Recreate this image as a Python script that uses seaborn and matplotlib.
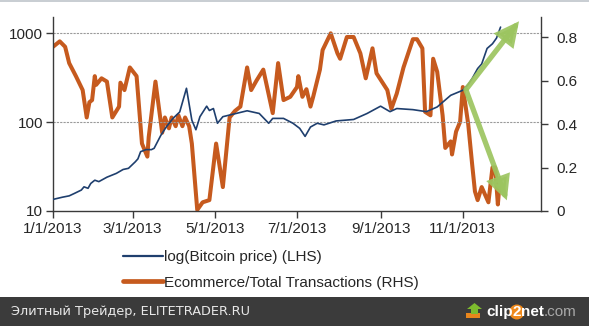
import numpy as np
import pandas as pd
import matplotlib
matplotlib.use("Agg")
import matplotlib.pyplot as plt
import matplotlib.dates as mdates
from matplotlib.patches import Rectangle, Circle, Polygon
from matplotlib.ticker import FixedLocator, FixedFormatter, NullLocator
import seaborn as sns

# ---------------- data ----------------
btc_dates = ["2013-01-01", "2013-01-08", "2013-01-13", "2013-01-17", "2013-01-22",
             "2013-01-24", "2013-01-27", "2013-01-29", "2013-02-01", "2013-02-04",
             "2013-02-10", "2013-02-17", "2013-02-22", "2013-02-26", "2013-03-03",
             "2013-03-05", "2013-03-07", "2013-03-11", "2013-03-15", "2013-03-17",
             "2013-03-22", "2013-03-26", "2013-03-31", "2013-04-05", "2013-04-10",
             "2013-04-14", "2013-04-17", "2013-04-20", "2013-04-25", "2013-04-27",
             "2013-04-30", "2013-05-03", "2013-05-07", "2013-05-12", "2013-05-25",
             "2013-06-03", "2013-06-10", "2013-06-13", "2013-06-21", "2013-06-28",
             "2013-07-03", "2013-07-07", "2013-07-11", "2013-07-16", "2013-07-21",
             "2013-07-30", "2013-08-12", "2013-08-22", "2013-09-01", "2013-09-08",
             "2013-09-13", "2013-09-25", "2013-10-05", "2013-10-13", "2013-10-23",
             "2013-11-01", "2013-11-05", "2013-11-08", "2013-11-12", "2013-11-15",
             "2013-11-19", "2013-11-23", "2013-11-26", "2013-11-29"]
btc_price = [13.5, 14.3, 14.8, 15.8, 17.2,
             18.7, 18.0, 20.4, 22.2, 21.4,
             24.0, 26.5, 29.3, 30.2, 35.7,
             38.6, 46.5, 49.0, 49.0, 50.7,
             71.0, 88.0, 110.0, 130.0, 240.0,
             105.0, 82.0, 115.0, 151.0, 135.0,
             142.0, 97.0, 115.0, 120.0, 134.0,
             125.0, 97.0, 110.0, 110.0, 97.0,
             85.0, 69.0, 88.0, 97.0, 93.0,
             103.0, 107.0, 125.0, 151.0, 131.0,
             142.0, 138.0, 131.0, 148.0, 200.0,
             228.0, 265.0, 310.0, 400.0, 450.0,
             673.0, 760.0, 880.0, 1170.0]

ecom_dates = ["2013-01-01", "2013-01-06", "2013-01-10", "2013-01-13", "2013-01-18",
              "2013-01-23", "2013-01-26", "2013-01-28", "2013-01-30", "2013-02-01",
              "2013-02-02", "2013-02-06", "2013-02-10", "2013-02-14", "2013-02-19",
              "2013-02-20", "2013-02-23", "2013-02-27", "2013-03-04", "2013-03-08",
              "2013-03-12", "2013-03-13", "2013-03-18", "2013-03-23", "2013-03-25",
              "2013-03-28", "2013-03-30", "2013-04-02", "2013-04-04", "2013-04-07",
              "2013-04-09", "2013-04-12", "2013-04-14", "2013-04-18", "2013-04-22",
              "2013-04-27", "2013-05-02", "2013-05-07", "2013-05-12", "2013-05-16",
              "2013-05-20", "2013-05-25", "2013-05-28", "2013-06-01", "2013-06-06",
              "2013-06-13", "2013-06-17", "2013-06-21", "2013-06-26", "2013-07-01",
              "2013-07-02", "2013-07-05", "2013-07-08", "2013-07-11", "2013-07-13",
              "2013-07-18", "2013-07-20", "2013-07-26", "2013-07-31", "2013-08-02",
              "2013-08-07", "2013-08-12", "2013-08-17", "2013-08-21", "2013-08-26",
              "2013-08-29", "2013-09-06", "2013-09-09", "2013-09-13", "2013-09-18",
              "2013-09-25", "2013-09-28", "2013-10-02", "2013-10-04", "2013-10-08",
              "2013-10-10", "2013-10-13", "2013-10-17", "2013-10-19", "2013-10-23",
              "2013-10-24", "2013-10-27", "2013-10-30", "2013-11-01", "2013-11-05",
              "2013-11-08", "2013-11-10", "2013-11-12", "2013-11-15", "2013-11-20",
              "2013-11-23", "2013-11-25", "2013-11-27", "2013-11-28"]
ecom_share = [0.755, 0.78, 0.755, 0.68, 0.62,
              0.556, 0.43, 0.50, 0.51, 0.62,
              0.58, 0.61, 0.595, 0.43, 0.48,
              0.59, 0.556, 0.66, 0.62, 0.31,
              0.25, 0.34, 0.595, 0.36, 0.43,
              0.38, 0.43, 0.39, 0.44, 0.39,
              0.43, 0.39, 0.31, 0.005, 0.04,
              0.05, 0.31, 0.11, 0.43, 0.46,
              0.48, 0.66, 0.556, 0.60, 0.65,
              0.45, 0.68, 0.51, 0.525, 0.57,
              0.62, 0.525, 0.56, 0.48, 0.525,
              0.65, 0.74, 0.817, 0.725, 0.70,
              0.80, 0.80, 0.725, 0.61, 0.748,
              0.633, 0.556, 0.47, 0.54, 0.66,
              0.79, 0.79, 0.748, 0.456, 0.44,
              0.70, 0.64, 0.44, 0.29, 0.32,
              0.26, 0.365, 0.41, 0.57, 0.40,
              0.21, 0.09, 0.05, 0.11, 0.04,
              0.20, 0.20, 0.03, 0.106]

x_ticks = ["2013-01-01", "2013-03-01", "2013-05-01", "2013-07-01", "2013-09-01", "2013-11-01"]
x_tick_labels = ["1/1/2013", "3/1/2013", "5/1/2013", "7/1/2013", "9/1/2013", "11/1/2013"]
left_ticks = [10, 100, 1000]
left_tick_labels = ["10", "100", "1000"]
right_ticks = [0, 0.2, 0.4, 0.6, 0.8]
right_tick_labels = ["0", "0.2", "0.4", "0.6", "0.8"]
series_names = ["log(Bitcoin price) (LHS)", "Ecommerce/Total Transactions (RHS)"]

# ---------------- style ----------------
sns.set_theme(style="white")
plt.rcParams["font.family"] = ["Liberation Sans", "DejaVu Sans"]

BLUE = "#1f3f6e"
ORANGE = "#c65a1e"
GREEN = "#9cc560"
SPINE = "#3a3a3a"
TXT = "#262626"

W, H = 589, 326
fig = plt.figure(figsize=(W / 100, H / 100), dpi=100)
fig.patch.set_facecolor("white")

ax = fig.add_axes([53 / W, 1 - 211 / H, (541 - 53) / W, (211 - 17) / H])
ax2 = ax.twinx()

btc = pd.DataFrame({"date": pd.to_datetime(btc_dates), "price": btc_price})
ecom = pd.DataFrame({"date": pd.to_datetime(ecom_dates), "share": ecom_share})

sns.lineplot(data=btc, x="date", y="price", ax=ax, color=BLUE, linewidth=1.2, zorder=3)
sns.lineplot(data=ecom, x="date", y="share", ax=ax2, color=ORANGE, linewidth=2.9,
             solid_joinstyle="round", zorder=2)

# axes limits/scales
ax.set_yscale("log")
ax.set_ylim(10, 1520)
ax2.set_ylim(0, 0.892)
ax.set_xlim(pd.Timestamp("2013-01-01"), pd.Timestamp("2013-12-29"))

ax.xaxis.set_major_locator(FixedLocator(mdates.date2num(pd.to_datetime(x_ticks))))
ax.xaxis.set_major_formatter(FixedFormatter(x_tick_labels))
ax.yaxis.set_major_locator(FixedLocator(left_ticks))
ax.yaxis.set_major_formatter(FixedFormatter(left_tick_labels))
ax.yaxis.set_minor_locator(NullLocator())
ax2.yaxis.set_major_locator(FixedLocator(right_ticks))
ax2.yaxis.set_major_formatter(FixedFormatter(right_tick_labels))

ax.set_xlabel("")
ax.set_ylabel("")
ax2.set_ylabel("")

# gridlines at 100, 1000
ax.grid(False)
ax2.grid(False)
for v in left_ticks[1:]:
    ax.axhline(v, color="#9a9a9a", linewidth=0.8, linestyle=(0, (2, 1)), zorder=1)

# spines
for a in (ax, ax2):
    a.spines["top"].set_visible(False)
    for s in ("left", "right", "bottom"):
        a.spines[s].set_color(SPINE)
        a.spines[s].set_linewidth(1.0)
ax.spines["right"].set_visible(False)
ax2.spines["left"].set_visible(False)
ax2.spines["bottom"].set_visible(False)

ax.tick_params(axis="x", direction="out", length=5, width=1, color=SPINE,
               labelsize=11, labelcolor=TXT, pad=3, bottom=True)
ax.tick_params(axis="y", direction="out", length=5, width=1, color=SPINE,
               labelsize=11, labelcolor=TXT, pad=2, left=True)
ax2.tick_params(axis="y", direction="out", length=5, width=1, color=SPINE,
                labelsize=11, labelcolor=TXT, pad=6, right=True)

ax.set_zorder(ax2.get_zorder() + 1)
ax.patch.set_visible(False)

# green arrows (annotations)
for (x0, y0), (x1, y1) in [((0.848, 0.632), (0.955, 0.978)),
                           ((0.846, 0.626), (0.930, 0.055))]:
    ax.annotate("", xy=(x1, y1), xycoords="axes fraction",
                xytext=(x0, y0), textcoords="axes fraction",
                arrowprops=dict(arrowstyle="-|>,head_length=1.0,head_width=0.5",
                                color=GREEN, lw=3.8, alpha=0.92, joinstyle="miter",
                                shrinkA=0, shrinkB=0), zorder=6)

# legend
h1 = plt.Line2D([], [], color=BLUE, linewidth=1.6)
h2 = plt.Line2D([], [], color=ORANGE, linewidth=3.4)
fig.legend([h1, h2], series_names, loc="upper left",
           bbox_to_anchor=(117 / W, 1 - 244 / H), frameon=False,
           fontsize=11, handlelength=2.6, handletextpad=0.1,
           labelspacing=0.75, borderaxespad=0, labelcolor=TXT)

# top thin border
fig.add_artist(Rectangle((0, 1 - 2 / H), 1, 2 / H, transform=fig.transFigure,
                         facecolor="#c9ced3", edgecolor="none"))

# bottom dark band with credits
fig.add_artist(Rectangle((0, 0), 1, 29 / H, transform=fig.transFigure,
                         facecolor="#3b3b3b", edgecolor="none"))
fig.text(11 / W, 14 / H, "Элитный Трейдер, ELITETRADER.RU", color="#e8e8e8",
         fontsize=9.3, family=["DejaVu Sans"], va="center", ha="left")

# clip2net logo
fig.add_artist(Polygon([(466 / W, 8 / H), (480 / W, 8 / H), (480 / W, 13 / H), (466 / W, 13 / H)],
                       closed=True, transform=fig.transFigure, facecolor="#e8861c", edgecolor="none"))
fig.add_artist(Polygon([(471 / W, 12 / H), (478 / W, 12 / H), (478 / W, 17 / H), (482 / W, 17 / H),
                        (474.5 / W, 23 / H), (467 / W, 17 / H), (471 / W, 17 / H)],
                       closed=True, transform=fig.transFigure, facecolor="#7dbb2e", edgecolor="none"))
fig.canvas.draw()
r = fig.canvas.get_renderer()
xpos = 486 / W
ypos = 14 / H
pieces = [("clip", "white", "bold"), ("2", "white", "bold"), ("net", "white", "bold"), (".com", "#a8a8a8", "normal")]
for txt, col, wt in pieces:
    t = fig.text(xpos, ypos, txt, color=col, fontsize=11, fontweight=wt,
                 family=["Liberation Sans"], va="center", ha="left", zorder=5)
    bb = t.get_window_extent(renderer=r)
    if txt == "2":
        cx = (bb.x0 + bb.x1) / 2
        fig.add_artist(Circle((cx, ypos * H), 7.5, transform=None,
                              facecolor="#f08a1c", edgecolor="none", zorder=4))
    xpos = bb.x1 / W

fig.savefig("out.png", dpi=100, facecolor=fig.get_facecolor())
